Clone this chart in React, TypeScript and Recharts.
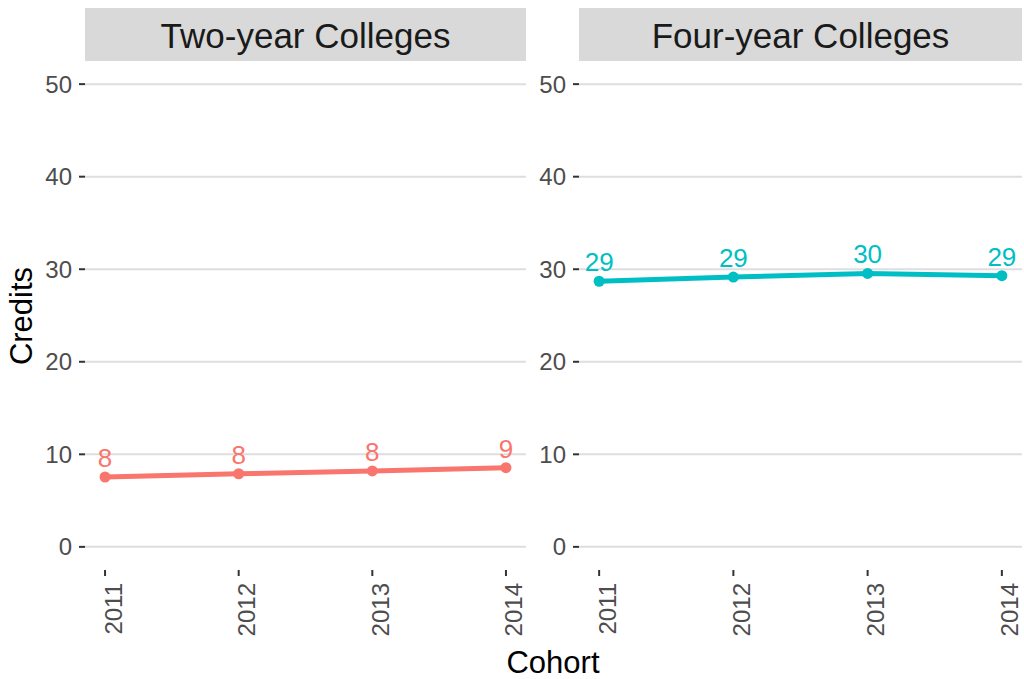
import React from "react";
import { LineChart, Line, XAxis, YAxis, ReferenceLine, LabelList } from "recharts";

const years = [2011, 2012, 2013, 2014];
const twoYearCredits = [7.55, 7.9, 8.2, 8.56];
const fourYearCredits = [28.7, 29.15, 29.55, 29.3];
const yTicks = [0, 10, 20, 30, 40, 50];
const panelTitles = ["Two-year Colleges", "Four-year Colleges"];
const colors = ["#F8766D", "#00BFC4"];
const yTitle = "Credits";
const xTitle = "Cohort";

const FONT = "'Liberation Sans', Arial, Helvetica, sans-serif";

const makeData = (vals: number[]) => years.map((y, i) => ({ year: y, value: vals[i] }));

const XTick = (props: any) => {
  const { x, y, payload } = props;
  return (
    <text
      transform={`translate(${x + 16.5}, ${y + 5}) rotate(-90)`}
      textAnchor="end"
      fontSize={24}
      fill="#4D4D4D"
      fontFamily={FONT}
    >
      {payload.value}
    </text>
  );
};

const makeLabel = (color: string) => (props: any) => {
  const { x, y, value } = props;
  return (
    <text x={x} y={y - 10} textAnchor="middle" fontSize={26} fill={color} fontFamily={FONT}>
      {Math.round(value)}
    </text>
  );
};

type PanelProps = { left: number; width: number; right: number; values: number[]; color: string };

const Panel = ({ left, width, right, values, color }: PanelProps) => (
  <div style={{ position: "absolute", left, top: 0 }}>
    <LineChart
      width={width}
      height={679}
      data={makeData(values)}
      margin={{ top: 61, right, bottom: 0, left: 0 }}
    >
      {yTicks.map((t) => (
        <ReferenceLine key={t} y={t} stroke="#DEDEDE" strokeWidth={2} ifOverflow="hidden" />
      ))}
      <XAxis
        dataKey="year"
        type="number"
        domain={[2010.85, 2014.15]}
        ticks={years}
        interval={0}
        allowDataOverflow
        height={109}
        axisLine={false}
        tickSize={6}
        tickLine={{ stroke: "#333333", strokeWidth: 2 }}
        tick={<XTick />}
      />
      <YAxis
        type="number"
        domain={[-2.5, 52.5]}
        ticks={yTicks}
        interval={0}
        allowDataOverflow
        width={85}
        axisLine={false}
        tickSize={6}
        tickMargin={7}
        tickLine={{ stroke: "#333333", strokeWidth: 2 }}
        tick={{ fontSize: 24, fill: "#4D4D4D", fontFamily: FONT }}
      />
      <Line
        dataKey="value"
        stroke={color}
        strokeWidth={5}
        dot={{ r: 5.5, fill: color, stroke: color, strokeWidth: 0 }}
        isAnimationActive={false}
      >
        <LabelList dataKey="value" content={makeLabel(color)} />
      </Line>
    </LineChart>
  </div>
);

export default function App() {
  const strips = [
    { x0: 85, x1: 526 },
    { x0: 579, x1: 1022 },
  ];
  return (
    <div
      style={{
        position: "absolute",
        left: 0,
        top: 0,
        width: 1024,
        height: 679,
        background: "#FFFFFF",
        fontFamily: FONT,
        overflow: "hidden",
      }}
    >
      <svg width={1024} height={679} style={{ position: "absolute", left: 0, top: 0 }}>
        {strips.map((s, i) => (
          <g key={i}>
            <rect x={s.x0} y={8} width={s.x1 - s.x0} height={53} fill="#D9D9D9" />
            <text
              x={(s.x0 + s.x1) / 2}
              y={47.5}
              textAnchor="middle"
              fontSize={35}
              fill="#1A1A1A"
              fontFamily={FONT}
            >
              {panelTitles[i]}
            </text>
          </g>
        ))}
        <text
          transform="translate(32, 316) rotate(-90)"
          textAnchor="middle"
          fontSize={31}
          fill="#000000"
          fontFamily={FONT}
        >
          {yTitle}
        </text>
        <text x={553} y={673} textAnchor="middle" fontSize={31} fill="#000000" fontFamily={FONT}>
          {xTitle}
        </text>
      </svg>
      <Panel left={0} width={540} right={14} values={twoYearCredits} color={colors[0]} />
      <Panel left={494} width={530} right={2} values={fourYearCredits} color={colors[1]} />
    </div>
  );
}
